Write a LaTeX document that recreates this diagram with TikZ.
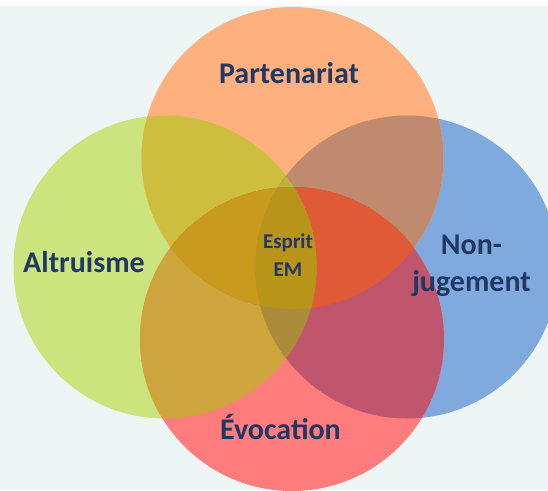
\documentclass[tikz,border=0pt]{standalone}
\usepackage{fontspec}
\setmainfont{Carlito}
\definecolor{bgc}{RGB}{237,245,245}
\definecolor{cG}{RGB}{204,228,125}
\definecolor{cO}{RGB}{255,176,127}
\definecolor{cB}{RGB}{128,170,222}
\definecolor{cR}{RGB}{255,124,124}
\definecolor{cGO}{RGB}{205,190,62}
\definecolor{cOB}{RGB}{192,138,110}
\definecolor{cGR}{RGB}{205,165,60}
\definecolor{cRB}{RGB}{192,85,110}
\definecolor{cGOR}{RGB}{200,155,30}
\definecolor{cORB}{RGB}{224,90,55}
\definecolor{cGOB}{RGB}{190,178,60}
\definecolor{cGRB}{RGB}{170,140,58}
\definecolor{cGORB}{RGB}{184,148,24}
\definecolor{txt}{RGB}{31,56,100}
\begin{document}
\begin{tikzpicture}[x=1pt,y=-1pt,
  lbl/.style={text=txt,font=\fontsize{30}{37}\selectfont\bfseries,inner sep=0pt,anchor=base,align=center},
  ctr/.style={text=txt,font=\fontsize{21}{28}\selectfont\bfseries,inner sep=0pt,anchor=base,align=center}]
\def\CG{(165,267) circle[radius=151.5pt]}
\def\CB{(407,267) circle[radius=151.5pt]}
\def\CO{(292.5,158) circle[radius=151pt]}
\def\CR{(292,339) circle[radius=152pt]}
\useasboundingbox (0,0) rectangle (548,490);
\fill[white] (0,0) rectangle (548,490);
\fill[bgc] (0,6) rectangle (548,490);
% single circles
\fill[cG] \CG;
\fill[cB] \CB;
\fill[cO] \CO;
\fill[cR] \CR;
% pairs
\begin{scope}\clip \CG; \fill[cGO] \CO; \end{scope}
\begin{scope}\clip \CO; \fill[cOB] \CB; \end{scope}
\begin{scope}\clip \CG; \fill[cGR] \CR; \end{scope}
\begin{scope}\clip \CR; \fill[cRB] \CB; \end{scope}
\begin{scope}\clip \CO; \fill[cORB] \CR; \end{scope}
\begin{scope}\clip \CG; \fill[cGRB] \CB; \end{scope}
% triples
\begin{scope}\clip \CG; \clip \CO; \fill[cGOR] \CR; \end{scope}
\begin{scope}\clip \CO; \clip \CR; \fill[cORB] \CB; \end{scope}
\begin{scope}\clip \CG; \clip \CO; \fill[cGOB] \CB; \end{scope}
\begin{scope}\clip \CG; \clip \CR; \fill[cGRB] \CB; \end{scope}
% quadruple
\begin{scope}\clip \CG; \clip \CO; \clip \CB; \fill[cGORB] \CR; \end{scope}
% labels
\node[lbl] (part) at (289,83) {Partenariat};
\node[lbl] (altr) at (84,272.5) {Altruisme};
\node[lbl] (nonj) at (471.5,291) {Non-\\jugement};
\node[lbl] (evoc) at (280.5,439) {Évocation};
\node[ctr] (esp) at (288,276) {Esprit\\EM};
\end{tikzpicture}
\end{document}
